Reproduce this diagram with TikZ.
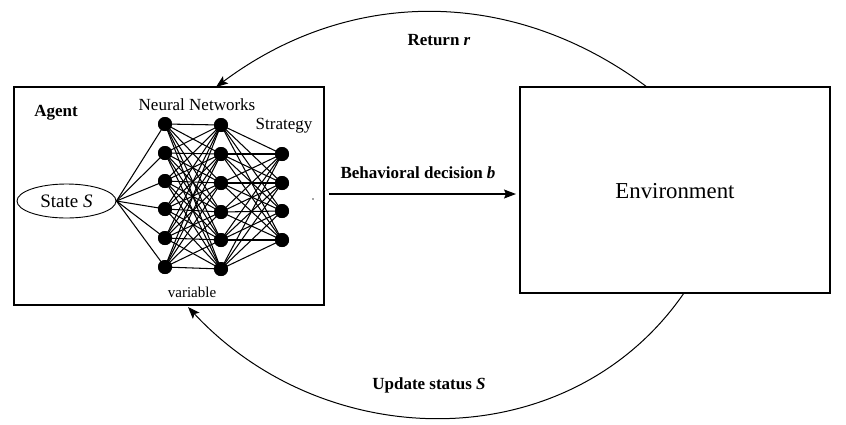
\documentclass[tikz,border=0pt]{standalone}
\usepackage{fontspec}
\setmainfont{Liberation Serif}
\newfontfamily\tnr{Liberation Serif}
\usetikzlibrary{arrows.meta,shapes.geometric}
\begin{document}
\begin{tikzpicture}[x=1pt,y=-1pt,
  box/.style={draw,line width=1.2pt,minimum width=310pt,minimum height=218pt,inner sep=0pt},
  neuron/.style={circle,fill=black,minimum size=14pt,inner sep=0pt},
  wire/.style={line width=1.05pt},
  arc/.style={line width=1pt,-{Stealth[length=12pt,width=9pt,inset=2.5pt]}},
  lbl/.style={font=\tnr\fontsize{17}{20}\selectfont,inner sep=0pt},
  blbl/.style={font=\tnr\fontsize{17}{20}\selectfont\bfseries,inner sep=0pt}]
\useasboundingbox (0,0) rectangle (846,424);

% boxes
\node[box] (agent) at (169,196) {};
\node[box,minimum height=206pt] (env) at (675,190) {};
\node[font=\tnr\fontsize{22.8}{26}\selectfont,inner sep=0pt] (envt) at (675,191) {Environment};

% labels in agent
\node[blbl] (agt) at (56,113) {Agent};
\node[lbl] (nn) at (197,105) {Neural Networks};
\node[lbl] (strat) at (284,126) {Strategy};
\node[lbl,font=\tnr\fontsize{15}{18}\selectfont] (var) at (192,292) {variable};

% state ellipse
\node[draw,ellipse,line width=0.9pt,minimum width=99pt,minimum height=34pt,inner sep=0pt,
      font=\tnr\fontsize{19}{22}\selectfont] (state) at (66.5,201) {State \textit{S}};

% neurons
\foreach \i/\y in {1/124,2/153,3/181,4/209,5/238,6/267}
  \node[neuron] (a\i) at (165,\y) {};
\foreach \i/\y in {1/125,2/154,3/183,4/212,5/240,6/269}
  \node[neuron] (b\i) at (221,\y) {};
\foreach \i/\y in {1/154,2/183,3/211,4/240}
  \node[neuron] (c\i) at (282,\y) {};

% connections
\foreach \i in {1,...,6}
  \draw[wire] (state.east) -- (a\i.center);
\foreach \i in {1,...,6}
  \foreach \j in {1,...,6}
    \draw[wire] (a\i.center) -- (b\j.center);
\foreach \i in {1,...,6}
  \foreach \j in {1,...,4}
    \draw[wire] (b\i.center) -- (c\j.center);
% redraw neurons on top
\foreach \i in {1,...,6}
  \fill (a\i.center) circle (7pt);
\foreach \i in {1,...,6}
  \fill (b\i.center) circle (7pt);
\foreach \i in {1,...,4}
  \fill (c\i.center) circle (7pt);

% stray dot
\node[circle,fill=black!70,minimum size=1.6pt,inner sep=0pt] (dot) at (313,199) {};

% behavioral decision arrow
\coordinate (bs) at (329,194);
\coordinate (be) at (516,194);
\draw[line width=1.1pt,-{Stealth[length=12pt,width=9pt,inset=2pt]}] (bs) -- (be);
\node[blbl] (bd) at (418,173) {Behavioral decision \textit{b}};

% return arc
\coordinate (rs) at (647,87);
\coordinate (rt) at (216,87);
\draw[arc] (rs) .. controls (513,-13) and (350,-13) .. (rt);
\node[blbl] (ret) at (439,40) {Return \textit{r}};

% update arc
\coordinate (us) at (684,293);
\coordinate (ut) at (188,307);
\draw[arc] (us) .. controls (571,457) and (328,457) .. (ut);
\node[blbl] (upd) at (429,385) {Update status \textit{S}};
\end{tikzpicture}
\end{document}
